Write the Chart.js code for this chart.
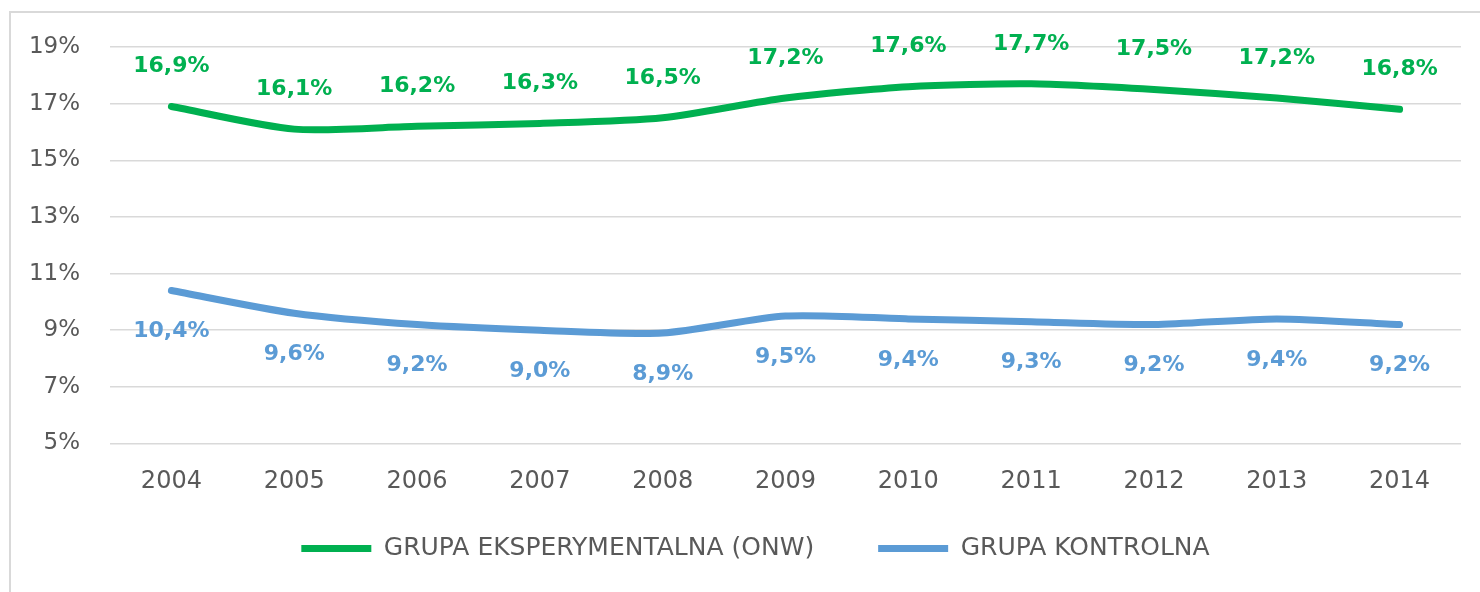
<!DOCTYPE html>
<html>
<head>
<meta charset="utf-8">
<script src="https://cdn.jsdelivr.net/npm/chart.js@4"></script>
<style>
  html, body { margin: 0; padding: 0; background: #fff; }
  #wrap { position: relative; width: 1480px; height: 592px; overflow: hidden; }
  #frame { position: absolute; left: 9px; top: 11px; width: 1500px; height: 620px; border: 2px solid #D9D9D9; box-sizing: border-box; }
  #c { position: absolute; left: 0; top: 0; }
</style>
</head>
<body>
<div id="wrap">
  <div id="frame"></div>
  <canvas id="c" width="1480" height="592"></canvas>
</div>
<script>
const categories = ['2004','2005','2006','2007','2008','2009','2010','2011','2012','2013','2014'];
const seriesNames = ['GRUPA EKSPERYMENTALNA (ONW)', 'GRUPA KONTROLNA'];
const experimental = [16.9, 16.1, 16.2, 16.3, 16.5, 17.2, 17.6, 17.7, 17.5, 17.2, 16.8];
const control = [10.4, 9.6, 9.2, 9.0, 8.9, 9.5, 9.4, 9.3, 9.2, 9.4, 9.2];
const yTicks = [5, 7, 9, 11, 13, 15, 17, 19];

const GREEN = '#00B050';
const BLUE = '#5B9BD5';
const TEXT = '#595959';
const FONT = '"DejaVu Sans"';

function fmt(v) { return v.toFixed(1).replace('.', ',') + '%'; }

const labelPlugin = {
  id: 'pointLabels',
  afterLayout(chart) {
    // centre the legend a little to the right, as in the reference
    if (chart.legend) { chart.legend.left += 50; }
  },
  afterDatasetsDraw(chart) {
    const ctx = chart.ctx;
    ctx.save();
    ctx.font = 'bold 22px ' + FONT;
    ctx.textAlign = 'center';
    ctx.textBaseline = 'middle';
    chart.data.datasets.forEach((ds, i) => {
      const meta = chart.getDatasetMeta(i);
      const off = ds.labelOffset;
      meta.data.forEach((pt, j) => {
        ctx.fillStyle = ds.borderColor;
        ctx.fillText(fmt(ds.data[j]), pt.x, pt.y + off);
      });
    });
    ctx.restore();
  }
};

new Chart(document.getElementById('c'), {
  type: 'line',
  data: {
    labels: categories,
    datasets: [
      { label: seriesNames[0], data: experimental, borderColor: GREEN, backgroundColor: GREEN,
        borderWidth: 7, pointRadius: 0, tension: 0.25, borderCapStyle: 'round', borderJoinStyle: 'round', labelOffset: -40 },
      { label: seriesNames[1], data: control, borderColor: BLUE, backgroundColor: BLUE,
        borderWidth: 7, pointRadius: 0, tension: 0.25, borderCapStyle: 'round', borderJoinStyle: 'round', labelOffset: 41 }
    ]
  },
  options: {
    responsive: false,
    animation: false,
    layout: { padding: { left: 0, right: 19, top: 47, bottom: 21 } },
    plugins: {
      tooltip: { enabled: false },
      legend: {
        position: 'bottom',
        labels: {
          color: TEXT,
          font: { family: FONT, size: 25 },
          boxWidth: 70,
          boxHeight: 7,
          padding: 64,
          useBorderRadius: true,
          borderRadius: 3.5,
          generateLabels(chart) {
            return chart.data.datasets.map((ds, i) => ({
              text: ds.label, fillStyle: ds.borderColor, strokeStyle: ds.borderColor,
              lineWidth: 0, datasetIndex: i, fontColor: TEXT, hidden: false
            }));
          }
        }
      }
    },
    scales: {
      x: {
        offset: true,
        grid: { display: false, drawTicks: false },
        border: { display: false },
        ticks: { color: TEXT, font: { family: FONT, size: 24 }, padding: 24, maxRotation: 0 },
        afterFit(scale) {
          scale.height = 28.5;
          scale._computeLabelArea = () => undefined; // let the tick labels reach below the thin axis box
        }
      },
      y: {
        min: 5, max: 19,
        afterBuildTicks(scale) { scale.ticks = yTicks.map(v => ({ value: v })); },
        grid: { color: '#D9D9D9', lineWidth: 1.5, drawTicks: false },
        border: { display: false },
        ticks: { color: TEXT, font: { family: FONT, size: 23 }, padding: 30, callback: v => v + '%' },
        afterFit(scale) { scale.width = 110; }
      }
    }
  },
  plugins: [labelPlugin]
});
</script>
</body>
</html>
